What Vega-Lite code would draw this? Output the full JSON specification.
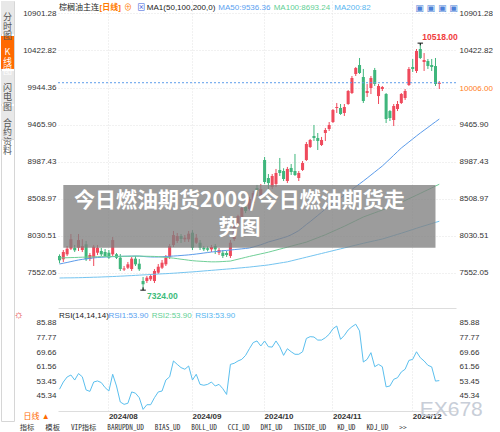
{
"$schema": "https://vega.github.io/schema/vega-lite/v6.json",
"padding": 0,
"background": "white",
"bounds": "flush",
"spacing": 57,
"config": {"font": "Liberation Sans, Noto Sans CJK SC, sans-serif", "view": {"stroke": null}},
"datasets": {
"k": [
{"d":"2024-07-15","o":7766,"h":7787,"l":7671,"c":7710,"m50":7662,"m100":7740,"m200":7481,"rsi":49.1},
{"d":"2024-07-16","o":7723,"h":7843,"l":7688,"c":7817,"m50":7672,"m100":7742,"m200":7482,"rsi":53.1},
{"d":"2024-07-17","o":7787,"h":7895,"l":7765,"c":7860,"m50":7682,"m100":7743,"m200":7483,"rsi":55.9},
{"d":"2024-07-18","o":7860,"h":8050,"l":7843,"c":7982,"m50":7693,"m100":7745,"m200":7483,"rsi":57.0},
{"d":"2024-07-19","o":7873,"h":7908,"l":7817,"c":7839,"m50":7704,"m100":7746,"m200":7484,"rsi":54.2},
{"d":"2024-07-22","o":7873,"h":8050,"l":7830,"c":7972,"m50":7714,"m100":7748,"m200":7485,"rsi":57.8},
{"d":"2024-07-23","o":7843,"h":7983,"l":7817,"c":7895,"m50":7722,"m100":7750,"m200":7486,"rsi":56.0},
{"d":"2024-07-24","o":7917,"h":7960,"l":7701,"c":7723,"m50":7729,"m100":7751,"m200":7488,"rsi":48.7},
{"d":"2024-07-25","o":7727,"h":7804,"l":7701,"c":7778,"m50":7735,"m100":7753,"m200":7489,"rsi":47.9},
{"d":"2024-07-26","o":7744,"h":7908,"l":7636,"c":7886,"m50":7741,"m100":7754,"m200":7491,"rsi":53.1},
{"d":"2024-07-29","o":7808,"h":7908,"l":7778,"c":7873,"m50":7746,"m100":7756,"m200":7492,"rsi":53.7},
{"d":"2024-07-30","o":7830,"h":7869,"l":7765,"c":7787,"m50":7749,"m100":7757,"m200":7494,"rsi":52.8},
{"d":"2024-07-31","o":7817,"h":7856,"l":7753,"c":7766,"m50":7752,"m100":7758,"m200":7496,"rsi":50.0},
{"d":"2024-08-01","o":7808,"h":7843,"l":7727,"c":7744,"m50":7755,"m100":7758,"m200":7498,"rsi":48.1},
{"d":"2024-08-02","o":7787,"h":8011,"l":7766,"c":7972,"m50":7757,"m100":7759,"m200":7500,"rsi":57.4},
{"d":"2024-08-05","o":7787,"h":7804,"l":7727,"c":7744,"m50":7759,"m100":7760,"m200":7502,"rsi":50.9},
{"d":"2024-08-06","o":7744,"h":7791,"l":7572,"c":7597,"m50":7761,"m100":7761,"m200":7505,"rsi":42.0},
{"d":"2024-08-07","o":7591,"h":7636,"l":7572,"c":7604,"m50":7762,"m100":7762,"m200":7507,"rsi":40.7},
{"d":"2024-08-08","o":7614,"h":7688,"l":7597,"c":7658,"m50":7763,"m100":7762,"m200":7510,"rsi":41.3},
{"d":"2024-08-09","o":7597,"h":7752,"l":7572,"c":7731,"m50":7764,"m100":7763,"m200":7512,"rsi":47.6},
{"d":"2024-08-12","o":7731,"h":7766,"l":7636,"c":7658,"m50":7765,"m100":7764,"m200":7515,"rsi":46.9},
{"d":"2024-08-13","o":7666,"h":7727,"l":7572,"c":7594,"m50":7764,"m100":7764,"m200":7518,"rsi":44.4},
{"d":"2024-08-14","o":7442,"h":7494,"l":7324,"c":7400,"m50":7760,"m100":7763,"m200":7521,"rsi":37.9},
{"d":"2024-08-15","o":7442,"h":7507,"l":7416,"c":7485,"m50":7756,"m100":7762,"m200":7523,"rsi":40.5},
{"d":"2024-08-16","o":7464,"h":7533,"l":7442,"c":7507,"m50":7753,"m100":7761,"m200":7526,"rsi":40.5},
{"d":"2024-08-19","o":7442,"h":7597,"l":7416,"c":7572,"m50":7752,"m100":7760,"m200":7529,"rsi":44.4},
{"d":"2024-08-20","o":7550,"h":7662,"l":7533,"c":7627,"m50":7753,"m100":7757,"m200":7532,"rsi":47.6},
{"d":"2024-08-21","o":7614,"h":7714,"l":7597,"c":7679,"m50":7756,"m100":7752,"m200":7535,"rsi":48.1},
{"d":"2024-08-22","o":7658,"h":7778,"l":7636,"c":7744,"m50":7759,"m100":7748,"m200":7537,"rsi":54.2},
{"d":"2024-08-23","o":7753,"h":7921,"l":7727,"c":7895,"m50":7762,"m100":7743,"m200":7540,"rsi":56.0},
{"d":"2024-08-26","o":7908,"h":8089,"l":7882,"c":8036,"m50":7765,"m100":7738,"m200":7543,"rsi":64.8},
{"d":"2024-08-27","o":7960,"h":8063,"l":7934,"c":8024,"m50":7768,"m100":7731,"m200":7546,"rsi":62.9},
{"d":"2024-08-28","o":8024,"h":8050,"l":7934,"c":7985,"m50":7772,"m100":7724,"m200":7550,"rsi":61.1},
{"d":"2024-08-29","o":7981,"h":8037,"l":7947,"c":8002,"m50":7776,"m100":7718,"m200":7553,"rsi":60.2},
{"d":"2024-08-30","o":7981,"h":8089,"l":7947,"c":8054,"m50":7780,"m100":7711,"m200":7557,"rsi":62.0},
{"d":"2024-09-02","o":8067,"h":8101,"l":7843,"c":7873,"m50":7785,"m100":7705,"m200":7560,"rsi":54.2},
{"d":"2024-09-03","o":7937,"h":8050,"l":7921,"c":8002,"m50":7791,"m100":7701,"m200":7564,"rsi":57.4},
{"d":"2024-09-04","o":7937,"h":7972,"l":7843,"c":7873,"m50":7797,"m100":7698,"m200":7568,"rsi":51.8},
{"d":"2024-09-05","o":7873,"h":7895,"l":7830,"c":7852,"m50":7804,"m100":7695,"m200":7572,"rsi":51.3},
{"d":"2024-09-06","o":7866,"h":7890,"l":7825,"c":7846,"m50":7810,"m100":7692,"m200":7576,"rsi":51.8},
{"d":"2024-09-09","o":7852,"h":7908,"l":7817,"c":7882,"m50":7817,"m100":7690,"m200":7580,"rsi":53.1},
{"d":"2024-09-10","o":7895,"h":7921,"l":7791,"c":7852,"m50":7822,"m100":7690,"m200":7584,"rsi":50.9},
{"d":"2024-09-11","o":7808,"h":7869,"l":7778,"c":7843,"m50":7827,"m100":7691,"m200":7588,"rsi":51.8},
{"d":"2024-09-12","o":7808,"h":7843,"l":7740,"c":7766,"m50":7833,"m100":7694,"m200":7592,"rsi":49.4},
{"d":"2024-09-13","o":7804,"h":7830,"l":7753,"c":7778,"m50":7838,"m100":7697,"m200":7596,"rsi":46.2},
{"d":"2024-09-18","o":7766,"h":7972,"l":7740,"c":7937,"m50":7843,"m100":7700,"m200":7600,"rsi":62.9},
{"d":"2024-09-19","o":7985,"h":8180,"l":7960,"c":8153,"m50":7848,"m100":7712,"m200":7604,"rsi":63.5},
{"d":"2024-09-20","o":8166,"h":8300,"l":8140,"c":8283,"m50":7853,"m100":7724,"m200":7609,"rsi":64.8},
{"d":"2024-09-23","o":8257,"h":8410,"l":8240,"c":8386,"m50":7858,"m100":7736,"m200":7613,"rsi":65.7},
{"d":"2024-09-24","o":8399,"h":8430,"l":8320,"c":8347,"m50":7863,"m100":7748,"m200":7618,"rsi":67.9},
{"d":"2024-09-25","o":8373,"h":8530,"l":8350,"c":8502,"m50":7869,"m100":7760,"m200":7622,"rsi":71.6},
{"d":"2024-09-26","o":8450,"h":8610,"l":8430,"c":8580,"m50":7882,"m100":7771,"m200":7628,"rsi":75.0},
{"d":"2024-09-27","o":8645,"h":8684,"l":8541,"c":8606,"m50":7896,"m100":7782,"m200":7633,"rsi":75.9},
{"d":"2024-09-30","o":8541,"h":8697,"l":8503,"c":8632,"m50":7911,"m100":7793,"m200":7639,"rsi":73.1},
{"d":"2024-10-08","o":9007,"h":9046,"l":8696,"c":8722,"m50":7928,"m100":7804,"m200":7644,"rsi":75.9},
{"d":"2024-10-09","o":8774,"h":8826,"l":8632,"c":8709,"m50":7947,"m100":7815,"m200":7650,"rsi":72.7},
{"d":"2024-10-10","o":8658,"h":8826,"l":8632,"c":8800,"m50":7960,"m100":7828,"m200":7658,"rsi":72.5},
{"d":"2024-10-11","o":8697,"h":8891,"l":8658,"c":8839,"m50":7974,"m100":7841,"m200":7666,"rsi":75.9},
{"d":"2024-10-14","o":8878,"h":9033,"l":8800,"c":8839,"m50":7988,"m100":7854,"m200":7674,"rsi":72.7},
{"d":"2024-10-15","o":8865,"h":8900,"l":8735,"c":8761,"m50":8003,"m100":7867,"m200":7682,"rsi":67.9},
{"d":"2024-10-16","o":8735,"h":8917,"l":8709,"c":8891,"m50":8018,"m100":7880,"m200":7690,"rsi":71.6},
{"d":"2024-10-17","o":8904,"h":8955,"l":8813,"c":8852,"m50":8040,"m100":7893,"m200":7702,"rsi":69.9},
{"d":"2024-10-18","o":8865,"h":9085,"l":8800,"c":8813,"m50":8066,"m100":7906,"m200":7714,"rsi":68.5},
{"d":"2024-10-21","o":8774,"h":8865,"l":8735,"c":8839,"m50":8094,"m100":7919,"m200":7726,"rsi":68.5},
{"d":"2024-10-22","o":8878,"h":8994,"l":8865,"c":8968,"m50":8133,"m100":7932,"m200":7738,"rsi":69.9},
{"d":"2024-10-23","o":9007,"h":9240,"l":8994,"c":9214,"m50":8173,"m100":7945,"m200":7750,"rsi":77.3},
{"d":"2024-10-24","o":9175,"h":9279,"l":9162,"c":9266,"m50":8210,"m100":7964,"m200":7762,"rsi":78.3},
{"d":"2024-10-25","o":9317,"h":9460,"l":9253,"c":9291,"m50":8250,"m100":7983,"m200":7774,"rsi":78.1},
{"d":"2024-10-28","o":9291,"h":9356,"l":9136,"c":9253,"m50":8290,"m100":8002,"m200":7786,"rsi":76.4},
{"d":"2024-10-29","o":9201,"h":9305,"l":9188,"c":9266,"m50":8331,"m100":8021,"m200":7798,"rsi":76.4},
{"d":"2024-10-30","o":9356,"h":9421,"l":9253,"c":9395,"m50":8373,"m100":8040,"m200":7810,"rsi":77.7},
{"d":"2024-10-31","o":9408,"h":9498,"l":9382,"c":9460,"m50":8410,"m100":8062,"m200":7822,"rsi":79.6},
{"d":"2024-11-01","o":9498,"h":9666,"l":9485,"c":9653,"m50":8447,"m100":8084,"m200":7834,"rsi":82.7},
{"d":"2024-11-04","o":9679,"h":9744,"l":9615,"c":9692,"m50":8483,"m100":8106,"m200":7846,"rsi":84.2},
{"d":"2024-11-05","o":9679,"h":9731,"l":9590,"c":9602,"m50":8518,"m100":8128,"m200":7858,"rsi":76.8},
{"d":"2024-11-06","o":9615,"h":9731,"l":9576,"c":9692,"m50":8554,"m100":8150,"m200":7870,"rsi":79.0},
{"d":"2024-11-07","o":9731,"h":9912,"l":9720,"c":9899,"m50":8590,"m100":8174,"m200":7882,"rsi":82.0},
{"d":"2024-11-08","o":9873,"h":10093,"l":9860,"c":10067,"m50":8626,"m100":8198,"m200":7894,"rsi":83.8},
{"d":"2024-11-11","o":10119,"h":10209,"l":10093,"c":10196,"m50":8662,"m100":8222,"m200":7906,"rsi":85.2},
{"d":"2024-11-12","o":10235,"h":10326,"l":10119,"c":10132,"m50":8698,"m100":8246,"m200":7918,"rsi":81.5},
{"d":"2024-11-13","o":10080,"h":10184,"l":9744,"c":9770,"m50":8735,"m100":8270,"m200":7930,"rsi":64.2},
{"d":"2024-11-14","o":9873,"h":9990,"l":9822,"c":9899,"m50":8773,"m100":8288,"m200":7941,"rsi":65.7},
{"d":"2024-11-15","o":9938,"h":10093,"l":9860,"c":10067,"m50":8812,"m100":8306,"m200":7952,"rsi":69.4},
{"d":"2024-11-18","o":10171,"h":10197,"l":9964,"c":9990,"m50":8851,"m100":8324,"m200":7963,"rsi":61.6},
{"d":"2024-11-19","o":9834,"h":9990,"l":9731,"c":9964,"m50":8890,"m100":8342,"m200":7974,"rsi":62.9},
{"d":"2024-11-20","o":9925,"h":9964,"l":9899,"c":9951,"m50":8929,"m100":8360,"m200":7985,"rsi":61.6},
{"d":"2024-11-21","o":9860,"h":9873,"l":9485,"c":9537,"m50":8975,"m100":8380,"m200":8000,"rsi":50.4},
{"d":"2024-11-22","o":9640,"h":9653,"l":9511,"c":9550,"m50":9021,"m100":8400,"m200":8015,"rsi":50.9},
{"d":"2024-11-25","o":9524,"h":9731,"l":9446,"c":9705,"m50":9068,"m100":8420,"m200":8030,"rsi":54.6},
{"d":"2024-11-26","o":9666,"h":9770,"l":9640,"c":9731,"m50":9115,"m100":8440,"m200":8045,"rsi":55.5},
{"d":"2024-11-27","o":9744,"h":9873,"l":9731,"c":9860,"m50":9162,"m100":8460,"m200":8060,"rsi":58.7},
{"d":"2024-11-28","o":9808,"h":9925,"l":9783,"c":9899,"m50":9201,"m100":8483,"m200":8076,"rsi":60.2},
{"d":"2024-11-29","o":9977,"h":10209,"l":9964,"c":10184,"m50":9240,"m100":8506,"m200":8092,"rsi":65.1},
{"d":"2024-12-02","o":10209,"h":10313,"l":10145,"c":10184,"m50":9279,"m100":8529,"m200":8108,"rsi":65.7},
{"d":"2024-12-03","o":10158,"h":10442,"l":10132,"c":10416,"m50":9318,"m100":8552,"m200":8124,"rsi":69.9},
{"d":"2024-12-04","o":10442,"h":10518,"l":10313,"c":10326,"m50":9356,"m100":8575,"m200":8140,"rsi":66.6},
{"d":"2024-12-05","o":10274,"h":10390,"l":10158,"c":10300,"m50":9392,"m100":8599,"m200":8155,"rsi":64.8},
{"d":"2024-12-06","o":10287,"h":10313,"l":10184,"c":10222,"m50":9428,"m100":8622,"m200":8170,"rsi":62.4},
{"d":"2024-12-09","o":10235,"h":10313,"l":10158,"c":10209,"m50":9465,"m100":8646,"m200":8185,"rsi":61.5},
{"d":"2024-12-10","o":10222,"h":10326,"l":9964,"c":9990,"m50":9501,"m100":8670,"m200":8200,"rsi":53.6},
{"d":"2024-12-11","o":9990,"h":10028,"l":9925,"c":10006,"m50":9536.36,"m100":8693.24,"m200":8215,"rsi":53.9}
]
},
"hconcat": [
{
"vconcat": [
{
"width": 13, "height": 138,
"view": {"stroke": "#d6d6d6"},
"data": {"values": [{"tab": "分\n时\n图", "on": "n"}, {"tab": "K\n线\n图", "on": "y"}, {"tab": "闪\n电\n图", "on": "n"}, {"tab": "合\n约\n资\n料", "on": "n"}]},
"encoding": {"y": {"field": "tab", "type": "nominal", "sort": null, "scale": {"type": "band", "paddingInner": 0.06, "paddingOuter": 0}, "axis": null}},
"layer": [
{"mark": {"type": "rect"}, "encoding": {"fill": {"field": "on", "type": "nominal", "scale": {"domain": ["n", "y"], "range": ["#e8e8e8", "#ff6a00"]}, "legend": null}}},
{"mark": {"type": "text", "lineBreak": "\n", "fontSize": 9, "lineHeight": 9.5, "baseline": "middle", "font": "Noto Sans CJK SC"}, "encoding": {"text": {"field": "tab"}, "color": {"field": "on", "type": "nominal", "scale": {"domain": ["n", "y"], "range": ["#555555", "#ffffff"]}, "legend": null}}}
]
},
{
"width": 13, "height": 282,
"view": {"stroke": "#d6d6d6"},
"data": {"values": [{}]},
"mark": {"type": "text"},
"encoding": {"text": {"value": ""}}
}
],
"spacing": 0,
"bounds": "flush"
},
{
"vconcat": [
{
"width": 398, "height": 307,
"data": {"name": "k"},
"resolve": {"axis": {"y": "independent"}},
"layer": [
{"mark": {"type": "rule", "strokeWidth": 1},
 "encoding": {
  "x": {"field": "d", "type": "ordinal", "scale": {"type": "band", "paddingInner": 0.2, "paddingOuter": 0, "align": 0, "domain": {"unionWith": ["2024-12-12", "2024-12-13", "2024-12-16", "2024-12-17"]}},
        "axis": {"values": ["2024-08-01", "2024-09-02", "2024-10-08", "2024-11-01", "2024-12-02"], "labels": false, "ticks": false, "domainColor": "#dddddd", "grid": true, "gridColor": "#e2e2e2", "gridDash": [1, 2], "title": null}},
  "y": {"field": "l", "type": "quantitative", "scale": {"domain": [7093.1, 11062.9], "nice": false, "zero": false},
        "axis": {"orient": "left", "values": [7552.05, 8030.51, 8508.97, 8987.43, 9465.9, 9944.36, 10422.82, 10901.28], "format": ".2f", "labelFontSize": 8, "labelColor": "#333333", "labelFlush": false, "ticks": false, "domain": false, "grid": true, "gridColor": "#e2e2e2", "gridDash": [1, 2], "labelPadding": 2,
                 "title": "☼", "titleAngle": 0, "titleX": -40, "titleY": 313, "titleColor": "#e5383b", "titleFontSize": 11, "titleAlign": "center", "titleBaseline": "middle", "titleFontWeight": "normal"}},
  "y2": {"field": "h"},
  "color": {"condition": {"test": "datum.c >= datum.o", "value": "#ef4a5c"}, "value": "#3fb67c"}
 }},
{"mark": {"type": "bar"},
 "encoding": {
  "x": {"field": "d", "type": "ordinal"},
  "y": {"field": "o", "type": "quantitative",
        "axis": {"orient": "right", "values": [7552.05, 8030.51, 8508.97, 8987.43, 9465.9, 10006, 10422.82, 10901.28], "format": ".2f", "labelFontSize": 8, "labelFlush": false,
                 "labelColor": {"condition": {"test": "datum.value == 10006", "value": "#ff7d1a"}, "value": "#333333"},
                 "labelOffset": {"condition": {"test": "datum.value == 10006", "value": 6}, "value": 0},
                 "ticks": false, "domain": false, "grid": false, "labelPadding": 3, "title": null}},
  "y2": {"field": "c"},
  "color": {"condition": {"test": "datum.c >= datum.o", "value": "#ef4a5c"}, "value": "#3fb67c"}
 }},
{"mark": {"type": "line", "color": "#5b9bea", "strokeWidth": 1}, "encoding": {"x": {"field": "d", "type": "ordinal"}, "y": {"field": "m50", "type": "quantitative", "axis": null}}},
{"mark": {"type": "line", "color": "#6fcf97", "strokeWidth": 1}, "encoding": {"x": {"field": "d", "type": "ordinal"}, "y": {"field": "m100", "type": "quantitative", "axis": null}}},
{"mark": {"type": "line", "color": "#74c4f0", "strokeWidth": 1}, "encoding": {"x": {"field": "d", "type": "ordinal"}, "y": {"field": "m200", "type": "quantitative", "axis": null}}},
{"data": {"values": [{}]}, "mark": {"type": "rule", "color": "#5b9bea", "strokeDash": [2, 2], "strokeWidth": 1}, "encoding": {"y": {"datum": 10006, "type": "quantitative", "axis": null}}},
{"data": {"values": [{}]}, "mark": {"type": "point", "shape": "M-1,0L1,0M0,0L0,0.8", "filled": false, "stroke": "#111111", "strokeWidth": 1, "size": 30, "opacity": 1},
 "encoding": {"x": {"datum": "2024-12-04", "type": "ordinal"}, "y": {"datum": 10518, "type": "quantitative", "axis": null}}},
{"data": {"values": [{}]}, "mark": {"type": "point", "shape": "M-1,0L1,0M0,-1L0,0", "filled": false, "stroke": "#111111", "strokeWidth": 1, "size": 30, "opacity": 1},
 "encoding": {"x": {"datum": "2024-08-14", "type": "ordinal"}, "y": {"datum": 7324, "type": "quantitative", "axis": null}}},
{"data": {"values": [{}]}, "mark": {"type": "text", "color": "#f03c3c", "fontSize": 8.5, "fontWeight": "bold", "align": "left", "baseline": "bottom", "dx": 2, "dy": -1},
 "encoding": {"x": {"datum": "2024-12-04", "type": "ordinal"}, "y": {"datum": 10518, "type": "quantitative", "axis": null}, "text": {"value": "10518.00"}}},
{"data": {"values": [{}]}, "mark": {"type": "text", "color": "#3dbb7a", "fontSize": 8.5, "fontWeight": "bold", "align": "left", "baseline": "top", "dx": 4, "dy": 1.5},
 "encoding": {"x": {"datum": "2024-08-14", "type": "ordinal"}, "y": {"datum": 7324, "type": "quantitative", "axis": null}, "text": {"value": "7324.00"}}},
{"data": {"values": [{}]}, "mark": {"type": "rect", "fill": "#808080", "opacity": 0.78},
 "encoding": {"x": {"datum": "2024-07-16", "type": "ordinal"}, "x2": {"datum": "2024-12-10"}, "y": {"datum": 8683.6, "type": "quantitative", "axis": null}, "y2": {"datum": 7872.8}}},
{"data": {"values": [{}]}, "mark": {"type": "text", "font": "Noto Sans CJK SC", "fontWeight": "bold", "fontSize": 21, "color": "white", "align": "center", "baseline": "top", "lineHeight": 27, "dx": 1.4, "dy": 1},
 "encoding": {"x": {"datum": "2024-09-20", "type": "ordinal"}, "y": {"datum": 8631.9, "type": "quantitative", "axis": null}, "text": {"value": ["今日燃油期货2009/今日燃油期货走", "势图"]}}},
{"data": {"values": [{}]}, "mark": {"type": "text", "color": "#222222", "fontSize": 8, "align": "left", "baseline": "middle", "dx": -0.5},
 "encoding": {"x": {"datum": "2024-07-15", "type": "ordinal"}, "y": {"datum": 10972.4, "type": "quantitative", "axis": null}, "text": {"value": "棕榈油主连"}}},
{"data": {"values": [{}]}, "mark": {"type": "text", "color": "#ff7a00", "fontSize": 8, "fontWeight": "bold", "align": "left", "baseline": "middle", "dx": 2},
 "encoding": {"x": {"datum": "2024-07-29", "type": "ordinal"}, "y": {"datum": 10972.4, "type": "quantitative", "axis": null}, "text": {"value": "[日线]"}}},
{"data": {"values": [{}]}, "mark": {"type": "text", "color": "#ff7a00", "fontSize": 8, "align": "left", "baseline": "middle"},
 "encoding": {"x": {"datum": "2024-08-07", "type": "ordinal"}, "y": {"datum": 10972.4, "type": "quantitative", "axis": null}, "text": {"value": "⊕"}}},
{"data": {"values": [{}]}, "mark": {"type": "text", "color": "#3b5bdb", "fontSize": 8, "align": "left", "baseline": "middle", "dx": -2},
 "encoding": {"x": {"datum": "2024-08-13", "type": "ordinal"}, "y": {"datum": 10972.4, "type": "quantitative", "axis": null}, "text": {"value": "⊠"}}},
{"data": {"values": [{}]}, "mark": {"type": "text", "color": "#222222", "fontSize": 8, "align": "left", "baseline": "middle"},
 "encoding": {"x": {"datum": "2024-08-15", "type": "ordinal"}, "y": {"datum": 10972.4, "type": "quantitative", "axis": null}, "text": {"value": "MA1(50,100,200,0)"}}},
{"data": {"values": [{}]}, "mark": {"type": "text", "color": "#5a9ff0", "fontSize": 8, "align": "left", "baseline": "middle", "dx": -0.7},
 "encoding": {"x": {"datum": "2024-09-11", "type": "ordinal"}, "y": {"datum": 10972.4, "type": "quantitative", "axis": null}, "text": {"value": "MA50:9536.36"}}},
{"data": {"values": [{}]}, "mark": {"type": "text", "color": "#5fcf95", "fontSize": 8, "align": "left", "baseline": "middle", "dx": 1.5},
 "encoding": {"x": {"datum": "2024-10-10", "type": "ordinal"}, "y": {"datum": 10972.4, "type": "quantitative", "axis": null}, "text": {"value": "MA100:8693.24"}}},
{"data": {"values": [{}]}, "mark": {"type": "text", "color": "#55b5f0", "fontSize": 8, "align": "left", "baseline": "middle", "dx": 1.3},
 "encoding": {"x": {"datum": "2024-11-01", "type": "ordinal"}, "y": {"datum": 10972.4, "type": "quantitative", "axis": null}, "text": {"value": "MA200:82"}}},
{"data": {"values": [{}]}, "mark": {"type": "text", "color": "#4a7fd8", "fontSize": 9, "align": "left", "baseline": "middle", "dx": 2.5, "font": "DejaVu Sans"},
 "encoding": {"x": {"datum": "2024-12-02", "type": "ordinal"}, "y": {"datum": 10972.4, "type": "quantitative", "axis": null}, "text": {"value": "▣ ▣ ▣ ▣"}}}
]
},
{
"width": 398, "height": 100,
"data": {"name": "k"},
"resolve": {"axis": {"y": "independent"}},
"layer": [
{"mark": {"type": "line", "color": "#5bbfee", "strokeWidth": 1},
 "encoding": {
  "x": {"field": "d", "type": "ordinal", "scale": {"type": "band", "paddingInner": 0.2, "paddingOuter": 0, "align": 0, "domain": {"unionWith": ["2024-12-12", "2024-12-13", "2024-12-16", "2024-12-17"]}},
        "axis": {"values": ["2024-08-01", "2024-09-02", "2024-10-08", "2024-11-01", "2024-12-02"], "labelExpr": "replace(slice(datum.value, 0, 7), '-', '/')", "labelAngle": 0, "labelAlign": "left", "labelFontWeight": "bold", "labelFontSize": 8, "labelColor": "#333333", "labelPadding": 1, "ticks": false, "domainColor": "#dddddd", "grid": true, "gridColor": "#e2e2e2", "gridDash": [1, 2],
                 "title": "指标\u00a0\u00a0\u00a0模板\u00a0\u00a0\u00a0VIP指标\u00a0\u00a0\u00a0BARUPDN_UD\u00a0\u00a0\u00a0BIAS_UD\u00a0\u00a0\u00a0BOLL_UD\u00a0\u00a0\u00a0CCI_UD\u00a0\u00a0\u00a0DMI_UD\u00a0\u00a0\u00a0INSIDE_UD\u00a0\u00a0\u00a0KD_UD\u00a0\u00a0\u00a0KDJ_UD\u00a0\u00a0\u00a0>>", "titleAnchor": "start", "titleX": -38.7, "titleY": 16.5, "titleAlign": "left", "titleBaseline": "middle", "titleFont": "Noto Sans Mono CJK SC, DejaVu Sans Mono, monospace", "titleFontSize": 7.3, "titleFontWeight": "normal", "titleColor": "#333333"}},
  "y": {"field": "rsi", "type": "quantitative", "scale": {"domain": [37.01, 92.54], "nice": false, "zero": false},
        "axis": {"orient": "left", "values": [45.34, 53.45, 61.56, 69.66, 77.77, 85.88], "format": ".2f", "labelFontSize": 8, "labelColor": "#333333", "labelFlush": false, "ticks": false, "domain": false, "grid": false, "labelPadding": 2,
                 "title": "日线 ▲", "titleAngle": 0, "titleX": -35, "titleY": 105, "titleAlign": "left", "titleBaseline": "middle", "titleColor": "#ff6a00", "titleFontSize": 8, "titleFontWeight": "normal"}}
 }},
{"mark": {"type": "line", "strokeOpacity": 0},
 "encoding": {
  "x": {"field": "d", "type": "ordinal"},
  "y": {"field": "rsi", "type": "quantitative",
        "axis": {"orient": "right", "values": [45.34, 53.45, 61.56, 69.66, 77.77, 85.88], "format": ".2f", "labelFontSize": 8, "labelColor": "#333333", "labelFlush": false, "ticks": false, "domain": false, "grid": false, "labelPadding": 3, "title": null}}
 }},
{"data": {"values": [{}]}, "mark": {"type": "text", "color": "#222222", "fontSize": 8, "align": "left", "baseline": "middle", "dx": -0.5},
 "encoding": {"x": {"datum": "2024-07-15", "type": "ordinal"}, "y": {"datum": 89.77, "type": "quantitative", "axis": null}, "text": {"value": "RSI(14,14,14)"}}},
{"data": {"values": [{}]}, "mark": {"type": "text", "color": "#5a9ff0", "fontSize": 8, "align": "left", "baseline": "middle", "dx": -0.5},
 "encoding": {"x": {"datum": "2024-08-01", "type": "ordinal"}, "y": {"datum": 89.77, "type": "quantitative", "axis": null}, "text": {"value": "RSI1:53.90"}}},
{"data": {"values": [{}]}, "mark": {"type": "text", "color": "#5fcf95", "fontSize": 8, "align": "left", "baseline": "middle", "dx": 1},
 "encoding": {"x": {"datum": "2024-08-16", "type": "ordinal"}, "y": {"datum": 89.77, "type": "quantitative", "axis": null}, "text": {"value": "RSI2:53.90"}}},
{"data": {"values": [{}]}, "mark": {"type": "text", "color": "#55b5f0", "fontSize": 8, "align": "left", "baseline": "middle", "dx": -1},
 "encoding": {"x": {"datum": "2024-09-03", "type": "ordinal"}, "y": {"datum": 89.77, "type": "quantitative", "axis": null}, "text": {"value": "RSI3:53.90"}}},
{"data": {"values": [{}]}, "mark": {"type": "text", "color": "#c8ced8", "fontSize": 21, "align": "left", "baseline": "middle", "dx": 7},
 "encoding": {"x": {"datum": "2024-12-02", "type": "ordinal"}, "y": {"datum": 37.56, "type": "quantitative", "axis": null}, "text": {"value": "EX678"}}}
]
}
],
"spacing": 3,
"bounds": "flush"
}
]
}
